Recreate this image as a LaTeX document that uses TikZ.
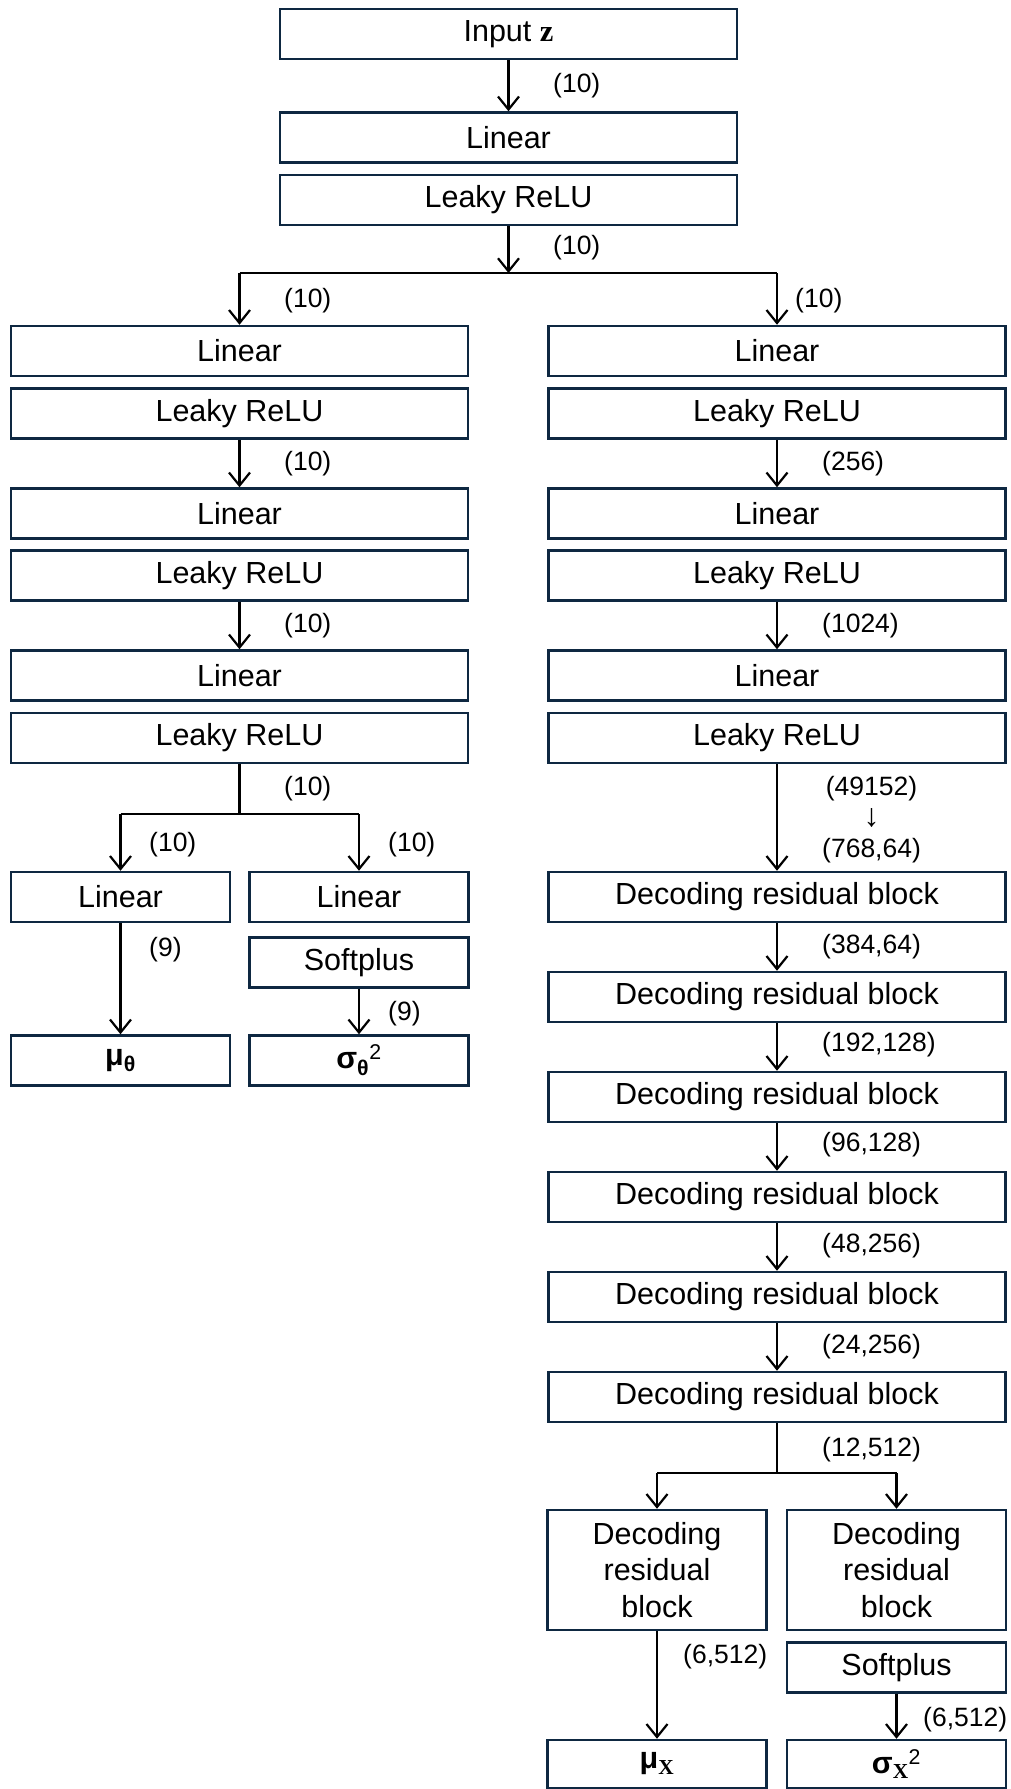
\documentclass[tikz,border=0pt]{standalone}
\usepackage[no-math]{fontspec}
\setmainfont{Liberation Sans}
\newfontfamily\serifbold{Liberation Serif}[UprightFont=*-Bold]
\usetikzlibrary{arrows.meta}
\definecolor{boxc}{HTML}{0E2841}
\tikzset{
  blk/.style={draw=boxc, line width=2.5pt, inner sep=0pt, minimum height=50pt, align=center,
    font=\fontsize{30.5}{36.5}\selectfont},
  wide/.style={blk, minimum width=457pt},
  half/.style={blk, minimum width=219pt},
  lbl/.style={anchor=west, inner sep=0pt, align=center, font=\fontsize{26.5}{30}\selectfont},
  arr/.style={line width=2.2pt, -{Straight Barb[length=13pt,width=21pt]}},
  ln/.style={line width=2.2pt}
}
\begin{document}
\begin{tikzpicture}[x=1pt,y=-1pt]
\useasboundingbox (0,0) rectangle (1011,1789);
% top
\node[wide] (in) at (508.5,34) {Input {\serifbold z}};
\node[wide] (lin0) at (508.5,137.5) {Linear};
\node[wide] (lr0) at (508.5,200) {Leaky ReLU};
% left column
\node[wide] (l1) at (239.5,351) {Linear};
\node[wide] (lr1) at (239.5,413.5) {Leaky ReLU};
\node[wide] (l2) at (239.5,513.5) {Linear};
\node[wide] (lr2) at (239.5,575.5) {Leaky ReLU};
\node[wide] (l3) at (239.5,675.5) {Linear};
\node[wide] (lr3) at (239.5,738) {Leaky ReLU};
\node[half] (la) at (120.5,897) {Linear};
\node[half] (lb) at (359,897) {Linear};
\node[half] (sp) at (359,962.5) {Softplus};
\node[half] (mu) at (120.5,1060.5) {\bfseries μ\textsubscript{θ}};
\node[half] (sig) at (359,1060.5) {{\bfseries σ}\textsubscript{\bfseries θ}\textsuperscript{2}};
% right column
\node[wide] (r1) at (777,351) {Linear};
\node[wide] (rr1) at (777,413.5) {Leaky ReLU};
\node[wide] (r2) at (777,513.5) {Linear};
\node[wide] (rr2) at (777,575.5) {Leaky ReLU};
\node[wide] (r3) at (777,675.5) {Linear};
\node[wide] (rr3) at (777,738) {Leaky ReLU};
\node[wide] (d1) at (777,897) {Decoding residual block};
\node[wide] (d2) at (777,997) {Decoding residual block};
\node[wide] (d3) at (777,1097) {Decoding residual block};
\node[wide] (d4) at (777,1197) {Decoding residual block};
\node[wide] (d5) at (777,1297) {Decoding residual block};
\node[wide] (d6) at (777,1397) {Decoding residual block};
\node[half, minimum height=120pt] (da) at (657,1570) {Decoding\\residual\\block};
\node[half, minimum height=120pt] (db) at (896.5,1570) {Decoding\\residual\\block};
\node[half] (sp2) at (896.5,1667.5) {Softplus};
\node[half, minimum height=48pt] (mux) at (657,1764) {{\bfseries μ}\textsubscript{\serifbold X}};
\node[half, minimum height=48pt] (sigx) at (896.5,1764) {{\bfseries σ}\textsubscript{\serifbold X}\textsuperscript{2}};
% split coordinates
\coordinate (s1) at (508.5,273);
\coordinate (s2) at (239.5,814);
\coordinate (s3) at (777,1473);
% connectors
\draw[arr] (in) -- (lin0);
\draw[arr] (lr0) -- (s1);
\draw[ln] (l1.north |- s1) -- (r1.north |- s1);
\draw[arr] (l1.north |- s1) -- (l1.north);
\draw[arr] (r1.north |- s1) -- (r1.north);
\draw[arr] (lr1) -- (l2);
\draw[arr] (lr2) -- (l3);
\draw[arr] (rr1) -- (r2);
\draw[arr] (rr2) -- (r3);
\draw[ln] (lr3) -- (s2);
\draw[ln] (la.north |- s2) -- (lb.north |- s2);
\draw[arr] (la.north |- s2) -- (la.north);
\draw[arr] (lb.north |- s2) -- (lb.north);
\draw[arr] (la) -- (mu);
\draw[arr] (sp) -- (sig);
\draw[arr] (rr3) -- (d1);
\draw[arr] (d1) -- (d2);
\draw[arr] (d2) -- (d3);
\draw[arr] (d3) -- (d4);
\draw[arr] (d4) -- (d5);
\draw[arr] (d5) -- (d6);
\draw[ln] (d6) -- (s3);
\draw[ln] (da.north |- s3) -- (db.north |- s3);
\draw[arr] (da.north |- s3) -- (da.north);
\draw[arr] (db.north |- s3) -- (db.north);
\draw[arr] (da) -- (mux);
\draw[arr] (sp2) -- (sigx);
% labels
\node[lbl] (t1) at (553,86) {(10)};
\node[lbl] (t2) at (553,248) {(10)};
\node[lbl] (t3) at (284,301) {(10)};
\node[lbl] (t4) at (795,301) {(10)};
\node[lbl] (t5) at (284,464) {(10)};
\node[lbl] (t6) at (284,626) {(10)};
\node[lbl] (t7) at (822,464) {(256)};
\node[lbl] (t8) at (822,626) {(1024)};
\node[lbl] (t9) at (284,789) {(10)};
\node[lbl] (t10) at (149,845) {(10)};
\node[lbl] (t11) at (388,845) {(10)};
\node[lbl] (t12) at (149,950) {(9)};
\node[lbl] (t13) at (388,1014) {(9)};
\node[lbl] (t14) at (822,820) {(49152)\\[1pt]{\fontsize{32}{31}\selectfont ↓}\\[1pt](768,64)};
\node[lbl] (t15) at (822,947) {(384,64)};
\node[lbl] (t16) at (822,1045) {(192,128)};
\node[lbl] (t17) at (822,1145) {(96,128)};
\node[lbl] (t18) at (822,1246) {(48,256)};
\node[lbl] (t19) at (822,1347) {(24,256)};
\node[lbl] (t20) at (822,1450) {(12,512)};
\node[lbl] (t21) at (683,1657) {(6,512)};
\node[lbl] (t22) at (923,1720) {(6,512)};
\end{tikzpicture}
\end{document}
